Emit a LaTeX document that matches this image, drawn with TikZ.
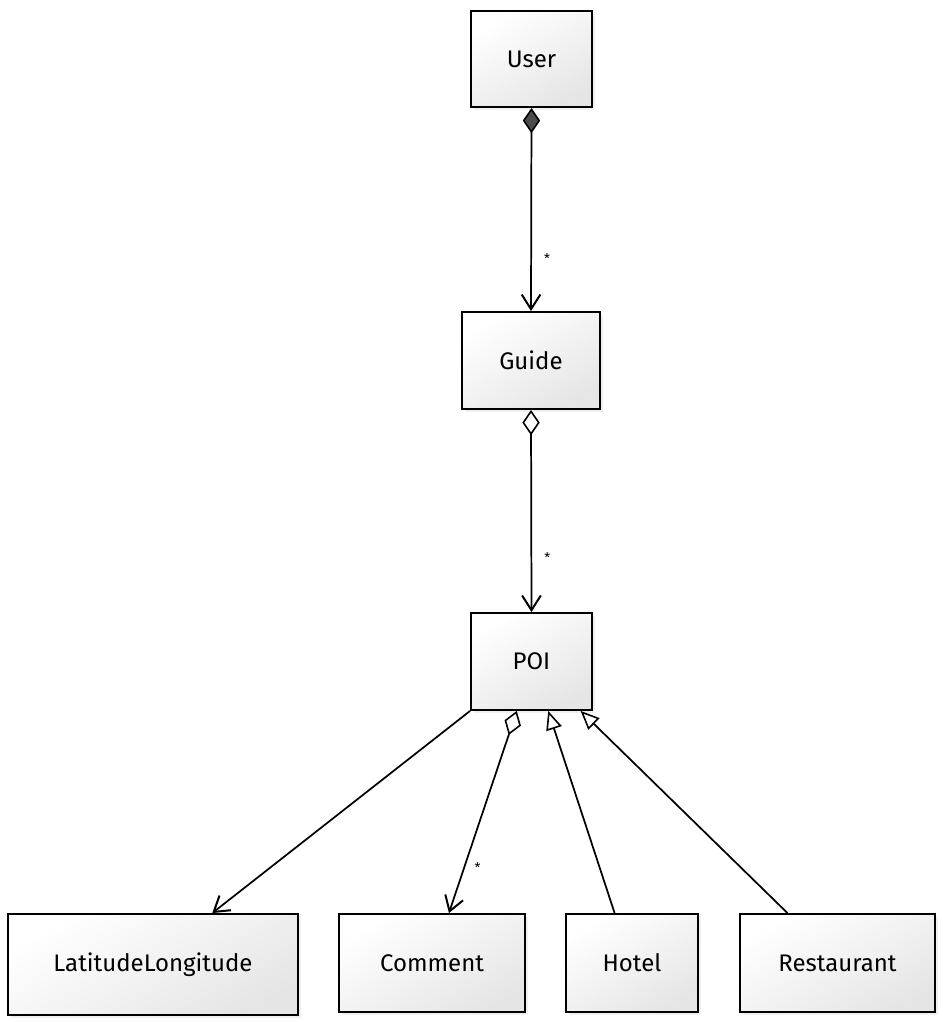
\documentclass[tikz,border=0pt]{standalone}
\usepackage{fontspec}
\setmainfont{Fira Sans}
\usetikzlibrary{arrows.meta,calc,shadows}
\begin{document}
\begin{tikzpicture}[x=0.75pt,y=-0.75pt,
  cls/.style={draw=black,line width=1.4pt,top color=white,bottom color=black!10,
    shading angle=30,drop shadow={opacity=0.12,shadow xshift=2pt,shadow yshift=-2pt},
    font=\fontsize{18}{21}\selectfont,inner sep=0pt},
  conn/.style={line width=1.3pt,draw=black},
  barb/.tip={Straight Barb[length=11pt,width=14pt,line width=1.5pt]},
  fdia/.tip={Diamond[length=19pt,width=13pt,fill=black!70,line width=1.2pt]},
  odia/.tip={Diamond[open,length=19pt,width=13pt,line width=1.2pt]},
  otri/.tip={Triangle[open,length=14pt,width=12pt,line width=1.2pt]},
  mult/.style={font=\normalsize,inner sep=1pt}]
\useasboundingbox (0,0) rectangle (943,1022);
\node[cls,minimum width=90.75pt,minimum height=72pt] (user) at (531.5,59) {User};
\node[cls,minimum width=103.5pt,minimum height=72.75pt] (guide) at (531,360.5) {Guide};
\node[cls,minimum width=90.75pt,minimum height=72.75pt] (poi) at (531.5,661.5) {POI};
\node[cls,minimum width=217.5pt,minimum height=75.75pt] (ll) at (153,964.5) {LatitudeLongitude};
\node[cls,minimum width=139.5pt,minimum height=73.5pt] (comment) at (432,963) {Comment};
\node[cls,minimum width=99pt,minimum height=73.5pt] (hotel) at (632,963) {Hotel};
\node[cls,minimum width=146.25pt,minimum height=73.5pt] (rest) at (837.5,963) {Restaurant};

\draw[conn,fdia-barb] (user.south) -- node[mult,pos=0.74,xshift=12pt]{*} (guide.north);
\draw[conn,odia-barb] (guide.south) -- node[mult,pos=0.73,xshift=12pt]{*} (poi.north);
\draw[conn,-barb] (poi.south west) -- ($(ll.north west)!0.703!(ll.north east)$);
\draw[conn,odia-barb] ($(poi.south west)!0.38!(poi.south east)$) -- node[mult,pos=0.775,xshift=10pt]{*} ($(comment.north west)!0.59!(comment.north east)$);
\draw[conn,-otri] ($(hotel.north west)!0.37!(hotel.north east)$) -- ($(poi.south west)!0.636!(poi.south east)$);
\draw[conn,-otri] ($(rest.north west)!0.246!(rest.north east)$) -- ($(poi.south west)!0.9!(poi.south east)$);
\end{tikzpicture}
\end{document}
